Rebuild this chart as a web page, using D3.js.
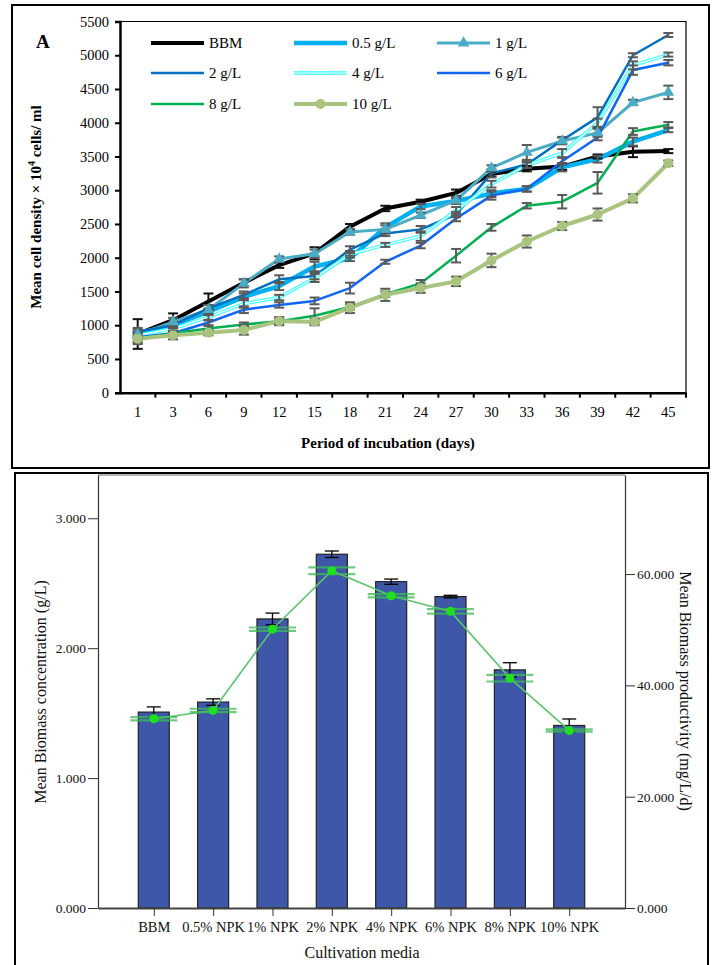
<!DOCTYPE html>
<html>
<head>
<meta charset="utf-8">
<script src="https://cdn.jsdelivr.net/npm/d3@7"></script>
<style>
  body { margin: 0; background: #fff; }
  svg { display: block; font-family: "Liberation Serif", "Times New Roman", serif; }
</style>
</head>
<body>
<svg id="chart" width="713" height="965"></svg>
<script>
// ---- panel A: cell density ----
const days = [1, 3, 6, 9, 12, 15, 18, 21, 24, 27, 30, 33, 36, 39, 42, 45];

const bbm   = [870, 1075, 1350, 1630, 1890, 2065, 2460, 2730, 2830, 2960, 3240, 3320, 3350, 3500, 3570, 3580];
const g05   = [880, 1000, 1200, 1420, 1580, 1870, 1990, 2450, 2760, 2840, 2950, 3020, 3340, 3460, 3720, 3890];
const g1    = [860, 1050, 1230, 1620, 1980, 2060, 2380, 2420, 2630, 2850, 3330, 3560, 3730, 3850, 4300, 4450];
const g2    = [900, 1000, 1250, 1450, 1680, 1730, 2120, 2360, 2420, 2640, 3250, 3380, 3740, 4080, 5000, 5300];
const g4    = [850, 950, 1120, 1320, 1410, 1700, 2050, 2190, 2320, 2700, 3090, 3370, 3550, 4000, 4850, 5010];
const g6    = [820, 880, 1040, 1230, 1300, 1360, 1550, 1940, 2180, 2580, 2920, 3020, 3430, 3780, 4780, 4890];
const g8    = [800, 880, 950, 1010, 1060, 1140, 1270, 1460, 1620, 2030, 2450, 2770, 2830, 3110, 3870, 3970];
const g10   = [800, 850, 890, 930, 1060, 1050, 1260, 1450, 1550, 1650, 1960, 2240, 2470, 2640, 2880, 3400];

const bbmErr = [220, 100, 120, 50, 40, 90, 40, 40, 30, 50, 40, 40, 50, 30, 80, 30];
const g05Err = [60, 40, 50, 50, 60, 70, 40, 60, 40, 40, 50, 40, 60, 50, 60, 30];
const g1Err  = [50, 60, 70, 60, 40, 60, 40, 60, 40, 50, 40, 110, 50, 60, 40, 100];
const g2Err  = [60, 50, 50, 50, 60, 50, 50, 40, 50, 40, 60, 50, 50, 150, 30, 30];
const g4Err  = [50, 40, 50, 60, 40, 60, 50, 30, 70, 50, 50, 40, 60, 60, 60, 30];
const g6Err  = [60, 30, 40, 50, 40, 50, 80, 30, 40, 40, 60, 40, 50, 40, 70, 40];
const g8Err  = [60, 30, 40, 30, 40, 110, 40, 40, 50, 100, 50, 40, 100, 160, 50, 40];
const g10Err = [80, 60, 40, 70, 60, 50, 80, 90, 70, 70, 100, 90, 60, 90, 60, 40];

const seriesNames = ["BBM", "0.5 g/L", "1 g/L", "2 g/L", "4 g/L", "6 g/L", "8 g/L", "10 g/L"];
const yTicksA = d3.range(0, 5501, 500);

// ---- panel B: biomass ----
const media = ["BBM", "0.5% NPK", "1% NPK", "2% NPK", "4% NPK", "6% NPK", "8% NPK", "10% NPK"];
const biomass    = [1.508, 1.585, 2.225, 2.723, 2.512, 2.397, 1.833, 1.405];
const biomassErr = [0.04, 0.025, 0.045, 0.025, 0.02, 0.01, 0.055, 0.05];
const product    = [34.0, 35.5, 50.1, 60.6, 56.1, 53.3, 41.3, 31.9];
const productErr = [0.3, 0.3, 0.3, 0.6, 0.3, 0.4, 0.6, 0.2];
const yTicksL = [0, 1, 2, 3];
const yTicksR = [0, 20, 40, 60];

const svg = d3.select("#chart");

// ============ panel A ============
const styles = [
  { color: "#000000", w: 4 },
  { color: "#00b0f0", w: 4.5 },
  { color: "#4bacc6", w: 3, marker: "triangle" },
  { color: "#0070c0", w: 2.5 },
  { color: "#33ffff", w: 3.5, double: true },
  { color: "#0f66f5", w: 2.5 },
  { color: "#00b050", w: 2.5 },
  { color: "#a9c47f", w: 4, marker: "circle" }
];
const allVals = [bbm, g05, g1, g2, g4, g6, g8, g10];
const allErrs = [bbmErr, g05Err, g1Err, g2Err, g4Err, g6Err, g8Err, g10Err];
const series = seriesNames.map((name, i) => ({
  name, ...styles[i],
  values: days.map((d, j) => ({ day: d, v: allVals[i][j], e: allErrs[i][j] }))
}));

svg.append("rect").attr("x", 12).attr("y", 5).attr("width", 697).attr("height", 463)
  .attr("fill", "none").attr("stroke", "#000").attr("stroke-width", 2);

const A = { left: 120, right: 686, top: 21.5, bottom: 392.7 };
const xA = d3.scaleBand().domain(days).range([A.left, A.right]);
const yA = d3.scaleLinear().domain([0, 5500]).range([A.bottom, A.top]);
const cx = d => xA(d) + xA.bandwidth() / 2;

const gA = svg.append("g");

// frame top and right
gA.append("path")
  .attr("d", `M${A.left},${A.top}H${A.right}V${A.bottom}`)
  .attr("fill", "none").attr("stroke", "#000").attr("stroke-width", 1.2);

const yAxisA = gA.append("g").attr("transform", `translate(${A.left},0)`)
  .call(d3.axisLeft(yA).tickValues(yTicksA).tickSize(5).tickPadding(6).tickFormat(d3.format("d")));
yAxisA.select(".domain").attr("stroke-width", 2.5);
yAxisA.selectAll(".tick line").attr("stroke-width", 2);
yAxisA.selectAll("text").attr("font-size", 14.5).attr("font-family", "Liberation Serif");

const xAxisA = gA.append("g").attr("transform", `translate(0,${A.bottom})`)
  .call(d3.axisBottom(xA).tickSize(0).tickSizeOuter(0).tickPadding(14));
xAxisA.select(".domain").attr("stroke-width", 2.5);
xAxisA.selectAll("text").attr("font-size", 14.5).attr("font-family", "Liberation Serif");
// ticks between categories
gA.append("g").selectAll("line")
  .data(days.slice(1).map(d => xA(d)).concat([xA.range()[1]]))
  .join("line")
  .attr("x1", d => d).attr("x2", d => d)
  .attr("y1", A.bottom).attr("y2", A.bottom + 5)
  .attr("stroke", "#000").attr("stroke-width", 2);

const line = d3.line().x(d => cx(d.day)).y(d => yA(d.v));

// lines
series.forEach(s => {
  gA.append("path").datum(s.values)
    .attr("d", line).attr("fill", "none")
    .attr("stroke", s.color).attr("stroke-width", s.w)
    .attr("stroke-linejoin", "round");
  if (s.double) {
    gA.append("path").datum(s.values)
      .attr("d", line).attr("fill", "none")
      .attr("stroke", "#fff").attr("stroke-width", 1.2);
  }
});

// error bars
series.forEach(s => {
  const col = s.name === "BBM" ? "#111" : "#5a5a5a";
  const eb = gA.append("g").attr("stroke", col).attr("stroke-width", 2);
  eb.selectAll("line.v").data(s.values).join("line").attr("class", "v")
    .attr("x1", d => cx(d.day)).attr("x2", d => cx(d.day))
    .attr("y1", d => yA(d.v - d.e)).attr("y2", d => yA(d.v + d.e));
  eb.selectAll("line.t").data(s.values).join("line").attr("class", "t")
    .attr("x1", d => cx(d.day) - 5).attr("x2", d => cx(d.day) + 5)
    .attr("y1", d => yA(d.v + d.e)).attr("y2", d => yA(d.v + d.e));
  eb.selectAll("line.b").data(s.values).join("line").attr("class", "b")
    .attr("x1", d => cx(d.day) - 5).attr("x2", d => cx(d.day) + 5)
    .attr("y1", d => yA(d.v - d.e)).attr("y2", d => yA(d.v - d.e));
});

// markers
const tri = d3.symbol().type(d3.symbolTriangle).size(60);
series.forEach(s => {
  if (s.marker === "triangle") {
    gA.append("g").selectAll("path").data(s.values).join("path")
      .attr("d", tri).attr("transform", d => `translate(${cx(d.day)},${yA(d.v)})`)
      .attr("fill", s.color);
  } else if (s.marker === "circle") {
    gA.append("g").selectAll("circle").data(s.values).join("circle")
      .attr("cx", d => cx(d.day)).attr("cy", d => yA(d.v)).attr("r", 5)
      .attr("fill", s.color);
  }
});

// legend
const legend = gA.append("g");
const legCols = [151, 294, 437], legRows = [43, 73, 104];
series.forEach((s, i) => {
  const lx = legCols[i % 3], ly = legRows[Math.floor(i / 3)];
  const g = legend.append("g").attr("transform", `translate(${lx},${ly})`);
  g.append("line").attr("x1", 0).attr("x2", 53).attr("stroke", s.color).attr("stroke-width", s.w);
  if (s.double) g.append("line").attr("x1", 0).attr("x2", 53).attr("stroke", "#fff").attr("stroke-width", 1.2);
  if (s.marker === "triangle") g.append("path").attr("d", tri).attr("transform", "translate(26.5,0)").attr("fill", s.color);
  if (s.marker === "circle") g.append("circle").attr("cx", 26.5).attr("r", 5).attr("fill", s.color);
  g.append("text").attr("x", 58).attr("dy", "0.35em").attr("font-size", 15).text(s.name);
});

// titles
svg.append("text").attr("x", 36).attr("y", 48).attr("font-size", 19).attr("font-weight", "bold").text("A");
const yTitleA = svg.append("text")
  .attr("transform", "translate(41,207) rotate(-90)")
  .attr("text-anchor", "middle").attr("font-size", 15).attr("font-weight", "bold");
yTitleA.append("tspan").text("Mean cell density × 10");
yTitleA.append("tspan").attr("dy", -6).attr("font-size", 10).text("4");
yTitleA.append("tspan").attr("dy", 6).text(" cells/ ml");
svg.append("text").attr("x", 388).attr("y", 448).attr("text-anchor", "middle")
  .attr("font-size", 15).attr("font-weight", "bold").text("Period of incubation (days)");

// ============ panel B ============
svg.append("rect").attr("x", 15).attr("y", 473).attr("width", 693).attr("height", 500)
  .attr("fill", "none").attr("stroke", "#000").attr("stroke-width", 2);

const B = { left: 98, right: 625, top: 475, bottom: 908 };
const xB = d3.scalePoint().domain(media).range([B.left, B.right]).padding(0.94);
const yL = d3.scaleLinear().domain([0, 3.333]).range([B.bottom, B.top]);
const yR = d3.scaleLinear().domain([0, 77.8]).range([B.bottom, B.top]);
const barW = 31;

const gB = svg.append("g");
gB.append("line").attr("x1", B.left).attr("x2", B.right).attr("y1", B.top).attr("y2", B.top)
  .attr("stroke", "#999").attr("stroke-width", 1.5);

// bars
gB.append("g").selectAll("rect").data(media).join("rect")
  .attr("x", (d) => xB(d) - barW / 2).attr("width", barW)
  .attr("y", (d, i) => yL(biomass[i])).attr("height", (d, i) => yL(0) - yL(biomass[i]))
  .attr("fill", "#3e57a9").attr("stroke", "#222").attr("stroke-width", 1.2);

// bar error bars
const ebB = gB.append("g").attr("stroke", "#000").attr("stroke-width", 1.3);
media.forEach((m, i) => {
  const x = xB(m), hi = yL(biomass[i] + biomassErr[i]), lo = yL(biomass[i] - biomassErr[i]);
  ebB.append("line").attr("x1", x).attr("x2", x).attr("y1", hi).attr("y2", lo);
  ebB.append("line").attr("x1", x - 7).attr("x2", x + 7).attr("y1", hi).attr("y2", hi);
  ebB.append("line").attr("x1", x - 7).attr("x2", x + 7).attr("y1", lo).attr("y2", lo);
});

// productivity line
const prodLine = d3.line().x((d, i) => xB(media[i])).y(d => yR(d));
gB.append("path").datum(product).attr("d", prodLine).attr("fill", "none")
  .attr("stroke", "#5cc56c").attr("stroke-width", 1.6);
const ebG = gB.append("g").attr("stroke", "#3dba55").attr("stroke-width", 2.2).attr("stroke-opacity", 0.75);
media.forEach((m, i) => {
  const x = xB(m), hi = yR(product[i] + productErr[i]), lo = yR(product[i] - productErr[i]);
  ebG.append("line").attr("x1", x - 23.5).attr("x2", x + 23.5).attr("y1", hi).attr("y2", hi);
  ebG.append("line").attr("x1", x - 23.5).attr("x2", x + 23.5).attr("y1", lo).attr("y2", lo);
});
gB.append("g").selectAll("circle").data(product).join("circle")
  .attr("cx", (d, i) => xB(media[i])).attr("cy", d => yR(d)).attr("r", 4.5)
  .attr("fill", "#1fe01f");

// axes
const lAxis = gB.append("g").attr("transform", `translate(${B.left},0)`)
  .call(d3.axisLeft(yL).tickValues(yTicksL).tickSize(10).tickSizeOuter(0).tickPadding(2).tickFormat(d3.format(".3f")));
const rAxis = gB.append("g").attr("transform", `translate(${B.right},0)`)
  .call(d3.axisRight(yR).tickValues(yTicksR).tickSize(10).tickSizeOuter(0).tickPadding(2).tickFormat(d3.format(".3f")));
const bAxis = gB.append("g").attr("transform", `translate(0,${B.bottom})`)
  .call(d3.axisBottom(xB).tickSize(8).tickSizeOuter(0).tickPadding(6));
[lAxis, rAxis].forEach(a => {
  a.select(".domain").attr("stroke", "#333").attr("stroke-width", 1.2);
  a.selectAll(".tick line").attr("stroke", "#333");
});
bAxis.select(".domain").attr("stroke", "#444").attr("stroke-width", 2);
bAxis.selectAll(".tick line").attr("stroke", "#333");
[lAxis, rAxis].forEach(a => a.selectAll("text")
  .attr("font-size", 13.5).attr("font-family", "Liberation Serif").attr("fill", "#111"));
bAxis.selectAll("text").attr("font-size", 14.5).attr("font-family", "Liberation Serif").attr("fill", "#111");

svg.append("text").attr("transform", "translate(46,692) rotate(-90)")
  .attr("text-anchor", "middle").attr("font-size", 16).attr("fill", "#111")
  .text("Mean Biomass concentration (g/L)");
svg.append("text").attr("transform", "translate(680,691) rotate(90)")
  .attr("text-anchor", "middle").attr("font-size", 16).attr("fill", "#111")
  .text("Mean Biomass productivity (mg/L/d)");
svg.append("text").attr("x", 362).attr("y", 958).attr("text-anchor", "middle")
  .attr("font-size", 16).attr("fill", "#111").text("Cultivation media");
</script>
</body>
</html>
